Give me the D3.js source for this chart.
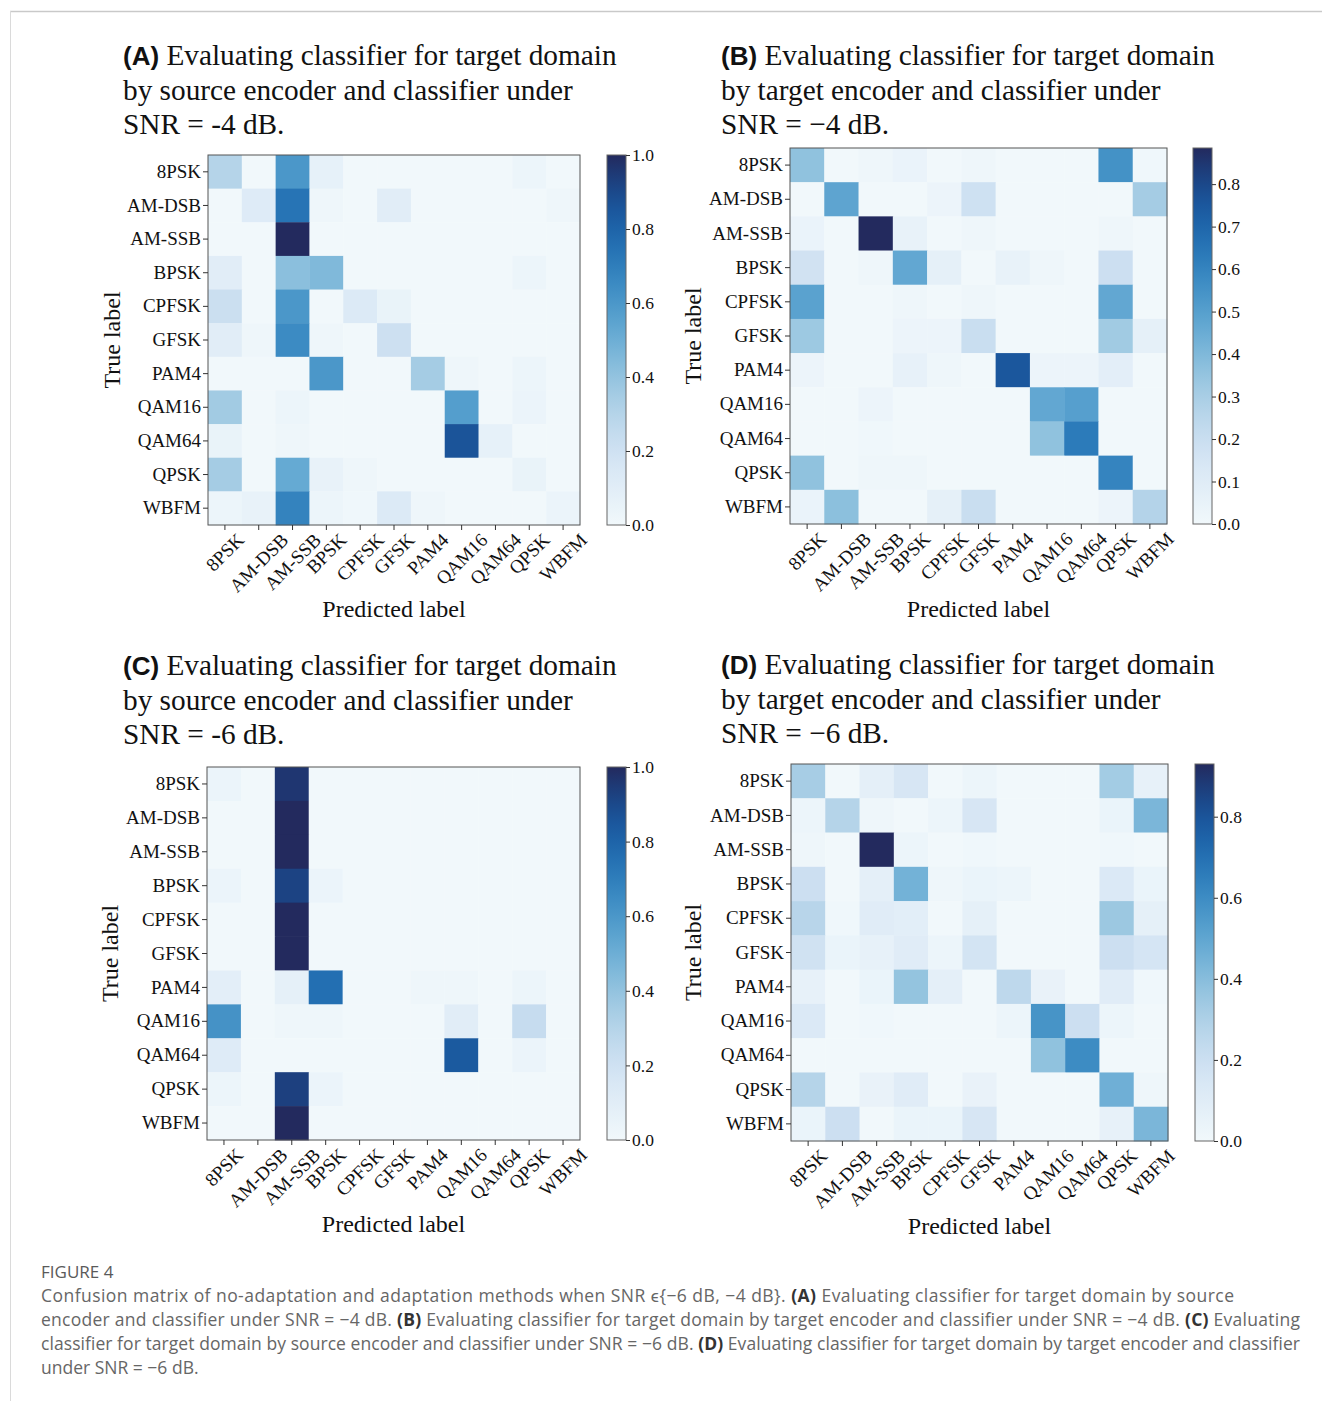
<!DOCTYPE html>
<html>
<head>
<meta charset="utf-8">
<script src="https://cdn.jsdelivr.net/npm/d3@7"></script>
<style>
  body { margin: 0; background: #fff; }
  svg { display: block; }
</style>
</head>
<body>
<svg id="fig" width="1322" height="1401"></svg>
<script>
// ---- data -----------------------------------------------------------------
const classes = ["8PSK", "AM-DSB", "AM-SSB", "BPSK", "CPFSK", "GFSK",
                 "PAM4", "QAM16", "QAM64", "QPSK", "WBFM"];

// rows = true label, columns = predicted label (row-normalised)
const matrixA = [
  [0.30, 0.00, 0.60, 0.07, 0.00, 0.00, 0.00, 0.00, 0.00, 0.03, 0.00],
  [0.00, 0.12, 0.74, 0.02, 0.00, 0.10, 0.00, 0.00, 0.00, 0.00, 0.02],
  [0.00, 0.00, 1.00, 0.00, 0.00, 0.00, 0.00, 0.00, 0.00, 0.00, 0.00],
  [0.10, 0.00, 0.42, 0.45, 0.00, 0.00, 0.00, 0.00, 0.00, 0.03, 0.00],
  [0.22, 0.00, 0.60, 0.00, 0.13, 0.05, 0.00, 0.00, 0.00, 0.00, 0.00],
  [0.10, 0.02, 0.65, 0.02, 0.00, 0.21, 0.00, 0.00, 0.00, 0.00, 0.00],
  [0.00, 0.00, 0.00, 0.60, 0.00, 0.00, 0.35, 0.02, 0.00, 0.03, 0.00],
  [0.36, 0.00, 0.03, 0.00, 0.00, 0.00, 0.00, 0.57, 0.00, 0.04, 0.00],
  [0.05, 0.00, 0.02, 0.00, 0.00, 0.00, 0.00, 0.86, 0.07, 0.00, 0.00],
  [0.35, 0.00, 0.52, 0.06, 0.02, 0.00, 0.00, 0.00, 0.00, 0.05, 0.00],
  [0.03, 0.06, 0.68, 0.03, 0.01, 0.13, 0.02, 0.00, 0.00, 0.00, 0.04]
];
const matrixB = [
  [0.36, 0.00, 0.02, 0.04, 0.00, 0.02, 0.00, 0.00, 0.00, 0.55, 0.01],
  [0.00, 0.48, 0.00, 0.00, 0.03, 0.18, 0.00, 0.00, 0.00, 0.00, 0.31],
  [0.04, 0.00, 0.885, 0.05, 0.00, 0.02, 0.00, 0.00, 0.00, 0.02, 0.00],
  [0.17, 0.00, 0.02, 0.47, 0.07, 0.00, 0.05, 0.02, 0.00, 0.19, 0.00],
  [0.49, 0.00, 0.00, 0.02, 0.00, 0.02, 0.00, 0.00, 0.00, 0.47, 0.00],
  [0.33, 0.00, 0.00, 0.03, 0.03, 0.20, 0.00, 0.00, 0.00, 0.32, 0.07],
  [0.03, 0.00, 0.00, 0.06, 0.02, 0.00, 0.75, 0.03, 0.03, 0.08, 0.00],
  [0.00, 0.00, 0.03, 0.00, 0.00, 0.00, 0.00, 0.47, 0.50, 0.00, 0.00],
  [0.00, 0.00, 0.01, 0.00, 0.00, 0.00, 0.00, 0.36, 0.63, 0.00, 0.00],
  [0.36, 0.00, 0.02, 0.02, 0.00, 0.00, 0.00, 0.00, 0.00, 0.60, 0.00],
  [0.04, 0.37, 0.00, 0.00, 0.07, 0.20, 0.00, 0.00, 0.00, 0.03, 0.27]
];
const matrixC = [
  [0.04, 0.00, 0.96, 0.00, 0.00, 0.00, 0.00, 0.00, 0.00, 0.00, 0.00],
  [0.00, 0.00, 1.00, 0.00, 0.00, 0.00, 0.00, 0.00, 0.00, 0.00, 0.00],
  [0.00, 0.00, 1.00, 0.00, 0.00, 0.00, 0.00, 0.00, 0.00, 0.00, 0.00],
  [0.04, 0.00, 0.92, 0.04, 0.00, 0.00, 0.00, 0.00, 0.00, 0.00, 0.00],
  [0.00, 0.00, 1.00, 0.00, 0.00, 0.00, 0.00, 0.00, 0.00, 0.00, 0.00],
  [0.00, 0.00, 1.00, 0.00, 0.00, 0.00, 0.00, 0.00, 0.00, 0.00, 0.00],
  [0.09, 0.00, 0.08, 0.76, 0.00, 0.00, 0.02, 0.02, 0.00, 0.03, 0.00],
  [0.62, 0.00, 0.02, 0.02, 0.00, 0.00, 0.00, 0.10, 0.00, 0.24, 0.00],
  [0.12, 0.00, 0.00, 0.00, 0.00, 0.00, 0.00, 0.84, 0.00, 0.04, 0.00],
  [0.03, 0.00, 0.93, 0.04, 0.00, 0.00, 0.00, 0.00, 0.00, 0.00, 0.00],
  [0.00, 0.00, 1.00, 0.00, 0.00, 0.00, 0.00, 0.00, 0.00, 0.00, 0.00]
];
const matrixD = [
  [0.32, 0.00, 0.08, 0.15, 0.00, 0.03, 0.00, 0.00, 0.00, 0.33, 0.06],
  [0.03, 0.28, 0.02, 0.00, 0.03, 0.15, 0.00, 0.00, 0.00, 0.04, 0.43],
  [0.02, 0.00, 0.93, 0.03, 0.00, 0.01, 0.00, 0.00, 0.00, 0.01, 0.00],
  [0.20, 0.00, 0.08, 0.45, 0.02, 0.04, 0.03, 0.00, 0.00, 0.13, 0.04],
  [0.27, 0.01, 0.10, 0.09, 0.00, 0.07, 0.00, 0.00, 0.00, 0.35, 0.07],
  [0.18, 0.04, 0.06, 0.10, 0.03, 0.17, 0.00, 0.00, 0.00, 0.20, 0.16],
  [0.06, 0.00, 0.04, 0.37, 0.08, 0.00, 0.25, 0.05, 0.00, 0.10, 0.01],
  [0.13, 0.00, 0.01, 0.00, 0.00, 0.00, 0.03, 0.57, 0.20, 0.03, 0.00],
  [0.00, 0.00, 0.00, 0.00, 0.00, 0.00, 0.00, 0.38, 0.60, 0.00, 0.00],
  [0.28, 0.00, 0.05, 0.10, 0.00, 0.05, 0.00, 0.00, 0.00, 0.46, 0.02],
  [0.04, 0.20, 0.00, 0.04, 0.04, 0.15, 0.00, 0.00, 0.00, 0.06, 0.43]
];

const cbarTicksA = [0.0, 0.2, 0.4, 0.6, 0.8, 1.0];
const cbarTicksB = [0.0, 0.1, 0.2, 0.3, 0.4, 0.5, 0.6, 0.7, 0.8];
const cbarTicksC = [0.0, 0.2, 0.4, 0.6, 0.8, 1.0];
const cbarTicksD = [0.0, 0.2, 0.4, 0.6, 0.8];

const titleA = ["Evaluating classifier for target domain", "by source encoder and classifier under", "SNR = -4 dB."];
const titleB = ["Evaluating classifier for target domain", "by target encoder and classifier under", "SNR = \u22124 dB."];
const titleC = ["Evaluating classifier for target domain", "by source encoder and classifier under", "SNR = -6 dB."];
const titleD = ["Evaluating classifier for target domain", "by target encoder and classifier under", "SNR = \u22126 dB."];

// ---- styling ----------------------------------------------------------------
const SERIF = "'Liberation Serif', 'Times New Roman', Times, serif";
const SANS = "'Liberation Sans', Arial, Helvetica, sans-serif";
const CAPTION_FONT = "'Open Sans', Lato, sans-serif";

// Blues-like ramp, with a deep navy at the top end
const blues = d3.interpolateRgbBasis([
  "#f1f8fb", "#deebf7", "#c6dbef", "#9ecae1", "#6baed6",
  "#4292c6", "#2171b5", "#17519a", "#232a5e"
]);

const svg = d3.select("#fig");

// page frame lines
svg.append("line").attr("x1", 10).attr("x2", 1322).attr("y1", 11.5).attr("y2", 11.5)
  .attr("stroke", "#c9c9c9").attr("stroke-width", 1.5);
svg.append("line").attr("x1", 10.5).attr("x2", 10.5).attr("y1", 11).attr("y2", 1401)
  .attr("stroke", "#dadada").attr("stroke-width", 1);

const panels = [
  { letter: "A", matrix: matrixA, ticks: cbarTicksA, title: titleA,
    x0: 208, x1: 580, y0: 155, y1: 525, cb: 607, tx: 123, ty: 65, ylabX: 112, xlabY: 617 },
  { letter: "B", matrix: matrixB, ticks: cbarTicksB, title: titleB,
    x0: 790, x1: 1167, y0: 148, y1: 524, cb: 1193, tx: 721, ty: 65, ylabX: 693, xlabY: 617 },
  { letter: "C", matrix: matrixC, ticks: cbarTicksC, title: titleC,
    x0: 207, x1: 580, y0: 767, y1: 1140, cb: 607, tx: 123, ty: 675, ylabX: 110, xlabY: 1232 },
  { letter: "D", matrix: matrixD, ticks: cbarTicksD, title: titleD,
    x0: 791, x1: 1168, y0: 764, y1: 1141, cb: 1195, tx: 721, ty: 674, ylabX: 693, xlabY: 1234 }
];

function drawPanel(p) {
  const g = svg.append("g").attr("class", "panel-" + p.letter);
  const x = d3.scaleBand().domain(classes).range([p.x0, p.x1]);
  const y = d3.scaleBand().domain(classes).range([p.y0, p.y1]);
  const vmax = d3.max(p.matrix.flat());
  const color = d3.scaleSequential(blues).domain([0, vmax]);

  // title
  p.title.forEach((line, i) => {
    const t = g.append("text")
      .attr("x", p.tx).attr("y", p.ty + i * 34.5)
      .attr("font-family", SERIF).attr("font-size", 29.3).attr("fill", "#111");
    if (i === 0) {
      t.append("tspan").attr("font-family", SANS).attr("font-weight", "bold")
        .attr("font-size", 26).text("(" + p.letter + ")");
      t.append("tspan").text("\u00a0" + line);
    } else {
      t.text(line);
    }
  });

  // cells
  const cells = p.matrix.flatMap((row, i) =>
    row.map((v, j) => ({ truth: classes[i], pred: classes[j], v })));
  g.append("g").selectAll("rect").data(cells).join("rect")
    .attr("x", d => x(d.pred)).attr("y", d => y(d.truth))
    .attr("width", x.bandwidth() + 0.4).attr("height", y.bandwidth() + 0.4)
    .attr("fill", d => color(d.v));

  // frame
  g.append("rect").attr("x", p.x0).attr("y", p.y0)
    .attr("width", p.x1 - p.x0).attr("height", p.y1 - p.y0)
    .attr("fill", "none").attr("stroke", "#555").attr("stroke-width", 1);

  // y axis
  const ya = g.append("g").attr("transform", `translate(${p.x0},0)`)
    .call(d3.axisLeft(y).tickSize(5).tickPadding(2));
  ya.select(".domain").remove();
  ya.selectAll("line").attr("stroke", "#333");
  ya.selectAll("text").attr("font-family", SERIF).attr("font-size", 19).attr("fill", "#111");

  // x axis with 45-degree labels centred under each tick
  const xa = g.append("g").attr("transform", `translate(0,${p.y1})`)
    .call(d3.axisBottom(x).tickSize(5));
  xa.select(".domain").remove();
  xa.selectAll("line").attr("stroke", "#333");
  xa.selectAll("text")
    .attr("font-family", SERIF).attr("font-size", 19).attr("fill", "#111")
    .attr("y", null).attr("dy", null)
    .attr("text-anchor", "middle").attr("dominant-baseline", "central")
    .each(function () {
      const w = this.getComputedTextLength();
      const off = 7 + (w + 13) * Math.SQRT1_2 / 2;
      d3.select(this).attr("transform", `translate(0,${off}) rotate(-45)`);
    });

  // axis titles
  g.append("text").attr("x", (p.x0 + p.x1) / 2).attr("y", p.xlabY)
    .attr("text-anchor", "middle").attr("font-family", SERIF).attr("font-size", 24)
    .attr("fill", "#111").text("Predicted label");
  g.append("text")
    .attr("transform", `translate(${p.ylabX},${(p.y0 + p.y1) / 2}) rotate(-90)`)
    .attr("text-anchor", "middle").attr("dominant-baseline", "central")
    .attr("font-family", SERIF).attr("font-size", 24).attr("fill", "#111").text("True label");

  // colour bar
  const gradId = "grad-" + p.letter;
  const grad = svg.append("defs").append("linearGradient").attr("id", gradId)
    .attr("x1", 0).attr("x2", 0).attr("y1", 1).attr("y2", 0);
  d3.range(0, 1.0001, 0.05).forEach(t => {
    grad.append("stop").attr("offset", t).attr("stop-color", blues(t));
  });
  const cbW = 19;
  g.append("rect").attr("x", p.cb).attr("y", p.y0).attr("width", cbW)
    .attr("height", p.y1 - p.y0).attr("fill", `url(#${gradId})`)
    .attr("stroke", "#666").attr("stroke-width", 1);
  const cs = d3.scaleLinear().domain([0, vmax]).range([p.y1, p.y0]);
  const ca = g.append("g").attr("transform", `translate(${p.cb + cbW},0)`)
    .call(d3.axisRight(cs).tickValues(p.ticks).tickFormat(d3.format(".1f")).tickSize(4).tickPadding(2));
  ca.select(".domain").remove();
  ca.selectAll("line").attr("stroke", "#333");
  ca.selectAll("text").attr("font-family", SERIF).attr("font-size", 17.5).attr("fill", "#111");
}

panels.forEach(drawPanel);

// ---- caption ---------------------------------------------------------------
svg.append("text").attr("x", 41).attr("y", 1278)
  .attr("font-family", CAPTION_FONT).attr("font-size", 17).attr("fill", "#5a5a5a")
  .text("FIGURE 4");

const captionLines = [
  { w: 1193, segs: [["Confusion matrix of no-adaptation and adaptation methods when SNR \u03f5{\u22126 dB, \u22124 dB}. ", false], ["(A)", true],
    [" Evaluating classifier for target domain by source", false]] },
  { w: 1259, segs: [["encoder and classifier under SNR = \u22124 dB. ", false], ["(B)", true],
    [" Evaluating classifier for target domain by target encoder and classifier under SNR = \u22124 dB. ", false], ["(C)", true], [" Evaluating", false]] },
  { w: 1259, segs: [["classifier for target domain by source encoder and classifier under SNR = \u22126 dB. ", false], ["(D)", true],
    [" Evaluating classifier for target domain by target encoder and classifier", false]] },
  { w: null, segs: [["under SNR = \u22126 dB.", false]] }
];
captionLines.forEach((line, i) => {
  const t = svg.append("text").attr("x", 41).attr("y", 1302 + i * 24)
    .attr("font-family", CAPTION_FONT).attr("font-size", 17.5).attr("fill", "#666");
  line.segs.forEach(([s, b]) => {
    t.append("tspan").attr("font-weight", b ? "bold" : null)
      .attr("fill", b ? "#333" : null).text(s);
  });
  if (line.w) t.attr("textLength", line.w).attr("lengthAdjust", "spacing");
});
</script>
</body>
</html>
